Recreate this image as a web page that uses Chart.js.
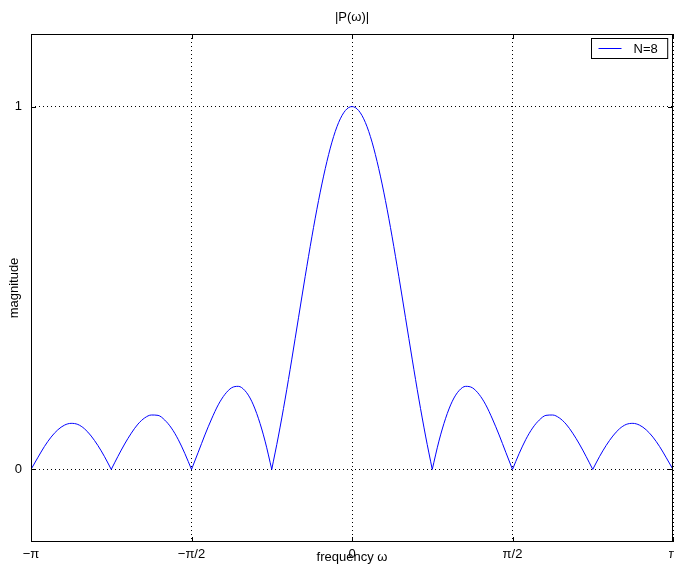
<!DOCTYPE html>
<html>
<head>
<meta charset="utf-8">
<script src="https://cdn.jsdelivr.net/npm/chart.js@4.4.0/dist/chart.umd.min.js"></script>
<style>
  html, body { margin: 0; padding: 0; background: #fff; }
  #wrap { width: 674px; height: 565px; }
</style>
</head>
<body>
<div id="wrap"><canvas id="chart"></canvas></div>
<script>
// ====== DATA ======
// frequency in multiples of pi
const freq = [
  -1, -0.9792, -0.9583, -0.9375, -0.9167, -0.8958, -0.875, -0.8542, -0.8333, -0.8125, -0.7917, -0.7708,
  -0.75, -0.7292, -0.7083, -0.6875, -0.6667, -0.6458, -0.625, -0.6042, -0.5833, -0.5625, -0.5417, -0.5208,
  -0.5, -0.4792, -0.4583, -0.4375, -0.4167, -0.3958, -0.375, -0.3542, -0.3333, -0.3125, -0.2917, -0.2708,
  -0.25, -0.2292, -0.2083, -0.1875, -0.1667, -0.1458, -0.125, -0.1042, -0.0833, -0.0625, -0.0417, -0.0208,
  0,
  0.0208, 0.0417, 0.0625, 0.0833, 0.1042, 0.125, 0.1458, 0.1667, 0.1875, 0.2083, 0.2292, 0.25,
  0.2708, 0.2917, 0.3125, 0.3333, 0.3542, 0.375, 0.3958, 0.4167, 0.4375, 0.4583, 0.4792, 0.5,
  0.5208, 0.5417, 0.5625, 0.5833, 0.6042, 0.625, 0.6458, 0.6667, 0.6875, 0.7083, 0.7292, 0.75,
  0.7708, 0.7917, 0.8125, 0.8333, 0.8542, 0.875, 0.8958, 0.9167, 0.9375, 0.9583, 0.9792, 1
];
const magnitude = [
  0, 0.032, 0.063, 0.089, 0.109, 0.122, 0.127, 0.124, 0.112, 0.092, 0.066, 0.035,
  0, 0.036, 0.070, 0.100, 0.125, 0.142, 0.150, 0.149, 0.136, 0.114, 0.083, 0.044,
  0, 0.047, 0.095, 0.139, 0.178, 0.207, 0.225, 0.229, 0.217, 0.188, 0.141, 0.078,
  0, 0.092, 0.194, 0.304, 0.418, 0.532, 0.641, 0.741, 0.829, 0.902, 0.956, 0.989,
  1.000,
  0.989, 0.956, 0.902, 0.829, 0.741, 0.641, 0.532, 0.418, 0.304, 0.194, 0.092, 0,
  0.078, 0.141, 0.188, 0.217, 0.229, 0.225, 0.207, 0.178, 0.139, 0.095, 0.047, 0,
  0.044, 0.083, 0.114, 0.136, 0.149, 0.150, 0.142, 0.125, 0.100, 0.070, 0.036, 0,
  0.035, 0.066, 0.092, 0.112, 0.124, 0.127, 0.122, 0.109, 0.089, 0.063, 0.032, 0
];
const xTicks = [-1, -0.5, 0, 0.5, 1];
const xTickLabels = ["\u2212\u03c0", "\u2212\u03c0/2", "0", "\u03c0/2", "\u03c0"];
const yTicks = [0, 1];
const seriesLabel = "N=8";

const FONT = { family: "'Liberation Sans', Arial, sans-serif", size: 13, weight: "normal" };

// split the curve at its zeros so each lobe is smoothed on its own (keeps the cusps sharp)
const points = [];
freq.forEach((f, i) => {
  points.push({ x: f, y: magnitude[i] });
  if (magnitude[i] === 0 && i > 0 && i < freq.length - 1) {
    points.push({ x: f, y: null });
    points.push({ x: f, y: magnitude[i] });
  }
});

// ====== FRAME, TICK MARKS, LEGEND ======
const framePlugin = {
  id: "frame",
  afterDraw(chart) {
    const { ctx, chartArea: a, scales } = chart;
    ctx.save();
    ctx.strokeStyle = "#000";
    ctx.lineWidth = 1;
    ctx.setLineDash([]);
    ctx.strokeRect(a.left + 0.5, a.top + 0.5, a.right - a.left - 1, a.bottom - a.top - 1);

    // inner tick marks
    const len = 5;
    ctx.beginPath();
    xTicks.forEach(v => {
      const x = Math.round(scales.x.getPixelForValue(v)) + 0.5;
      ctx.moveTo(x, a.bottom); ctx.lineTo(x, a.bottom - len);
      ctx.moveTo(x, a.top); ctx.lineTo(x, a.top + len);
    });
    yTicks.forEach(v => {
      const y = Math.round(scales.y.getPixelForValue(v)) + 0.5;
      ctx.moveTo(a.left, y); ctx.lineTo(a.left + len, y);
      ctx.moveTo(a.right, y); ctx.lineTo(a.right - len, y);
    });
    ctx.stroke();

    // legend box
    const ds = chart.data.datasets[0];
    ctx.font = `${FONT.size}px ${FONT.family}`;
    const tw = ctx.measureText(ds.label).width;
    const boxW = 7 + 23 + 12 + tw + 10;
    const boxH = 20;
    const bx = Math.round(a.right - 6 - boxW) + 0.5;
    const by = a.top + 4.5;
    ctx.fillStyle = "#fff";
    ctx.fillRect(bx, by, boxW, boxH);
    ctx.strokeRect(bx, by, boxW, boxH);
    ctx.strokeStyle = ds.borderColor;
    ctx.beginPath();
    ctx.moveTo(bx + 7, by + boxH / 2);
    ctx.lineTo(bx + 30, by + boxH / 2);
    ctx.stroke();
    ctx.fillStyle = "#000";
    ctx.textBaseline = "middle";
    ctx.fillText(ds.label, bx + 42, by + boxH / 2 + 0.5);
    ctx.restore();
  }
};

// ====== CHART ======
const ctx = document.getElementById("chart").getContext("2d");
new Chart(ctx, {
  type: "line",
  data: {
    datasets: [{
      label: seriesLabel,
      data: points,
      borderColor: "rgb(0,0,255)",
      borderWidth: 1,
      pointRadius: 0,
      tension: 0.4,
      cubicInterpolationMode: "monotone",
      spanGaps: false,
      fill: false
    }]
  },
  options: {
    responsive: true,
    maintainAspectRatio: false,
    animation: false,
    layout: { padding: { left: 0, right: 1, top: 0, bottom: 0 } },
    plugins: {
      legend: { display: false },
      tooltip: { enabled: false },
      title: {
        display: true, text: "|P(\u03c9)|", fullSize: false, color: "#000",
        font: FONT, padding: { top: 9.2, bottom: 9.2 }
      }
    },
    scales: {
      x: {
        type: "linear", min: -1, max: 1,
        afterBuildTicks: s => { s.ticks = xTicks.map(v => ({ value: v })); },
        afterFit: s => { s.height = 23; s.paddingLeft = 0; s.paddingRight = 0; },
        ticks: {
          color: "#000", font: FONT, padding: 5, maxRotation: 0, autoSkip: false,
          callback: v => xTickLabels[xTicks.indexOf(v)]
        },
        grid: { color: "#000", lineWidth: 1, drawTicks: false },
        border: { display: false, dash: [1, 3] },
        title: { display: true, text: "frequency \u03c9", color: "#000", font: FONT, padding: { top: 0, bottom: 0 } }
      },
      y: {
        min: -0.2, max: 1.2,
        afterBuildTicks: s => { s.ticks = yTicks.map(v => ({ value: v })); },
        afterFit: s => { s.width = 31; s.paddingTop = 0; s.paddingBottom = 0; },
        ticks: { color: "#000", font: FONT, padding: 9, callback: v => String(v) },
        grid: { color: "#000", lineWidth: 1, drawTicks: false },
        border: { display: false, dash: [1, 3] },
        title: { display: true, text: "magnitude", color: "#000", font: FONT, padding: { top: 7, bottom: 0 } }
      }
    }
  },
  plugins: [framePlugin]
});
</script>
</body>
</html>
